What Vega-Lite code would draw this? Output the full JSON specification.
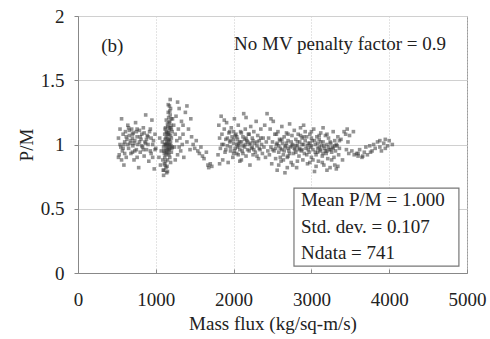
{
"$schema": "https://vega.github.io/schema/vega-lite/v6.json",
"width": 389, "height": 257,
"autosize": {"type": "none"},
"padding": {"left": 78, "top": 16, "right": 23, "bottom": 66},
"config": {
  "view": {"stroke": "#9a9a9a", "strokeWidth": 1},
  "font": "Times New Roman, Liberation Serif, DejaVu Serif, serif",
  "axis": {"labelFont": "Times New Roman, Liberation Serif, DejaVu Serif, serif", "titleFont": "Times New Roman, Liberation Serif, DejaVu Serif, serif", "labelColor": "#222", "titleColor": "#222", "labelFontSize": 19, "titleFontSize": 19, "titleFontWeight": "normal", "domainColor": "#888", "tickColor": "#888"}
},
"datasets": {
"pts": [
{"G":520,"PM":1.05},{"G":530,"PM":0.92},{"G":540,"PM":1.12},{"G":550,"PM":0.98},{"G":560,"PM":1.20},{"G":570,"PM":0.95},{"G":580,"PM":1.08},{"G":590,"PM":0.84},{"G":600,"PM":1.02},{"G":610,"PM":1.10},{"G":620,"PM":0.90},{"G":630,"PM":1.04},{"G":640,"PM":1.15},{"G":650,"PM":0.97},{"G":660,"PM":1.07},{"G":670,"PM":1.01},{"G":680,"PM":0.93},{"G":690,"PM":1.12},{"G":700,"PM":1.05},{"G":705,"PM":0.99},{"G":710,"PM":1.09},{"G":720,"PM":0.88},{"G":730,"PM":1.03},{"G":740,"PM":1.17},{"G":750,"PM":0.96},{"G":760,"PM":1.06},{"G":770,"PM":1.00},{"G":780,"PM":0.82},{"G":790,"PM":1.11},{"G":800,"PM":0.94},{"G":810,"PM":1.04},{"G":820,"PM":1.08},{"G":830,"PM":0.98},{"G":840,"PM":1.13},{"G":850,"PM":0.91},{"G":860,"PM":1.02},{"G":870,"PM":1.23},{"G":880,"PM":0.96},{"G":890,"PM":1.07},{"G":900,"PM":1.00},{"G":910,"PM":0.87},{"G":920,"PM":1.10},{"G":930,"PM":0.95},{"G":940,"PM":1.05},{"G":950,"PM":1.19},{"G":960,"PM":0.90},{"G":970,"PM":1.03},{"G":980,"PM":0.81},{"G":990,"PM":1.08},{"G":1000,"PM":0.97},{"G":640,"PM":1.00},{"G":700,"PM":1.08},{"G":760,"PM":1.12},{"G":820,"PM":0.99},{"G":880,"PM":1.04},{"G":600,"PM":0.93},{"G":660,"PM":1.11},{"G":730,"PM":0.95},{"G":790,"PM":1.02},{"G":850,"PM":1.09},{"G":540,"PM":1.00},{"G":560,"PM":0.88},
{"G":620,"PM":1.06},{"G":680,"PM":1.03},{"G":720,"PM":1.01},{"G":750,"PM":1.10},{"G":700,"PM":0.94},{"G":650,"PM":1.13},{"G":590,"PM":1.00},{"G":800,"PM":1.06},{"G":840,"PM":0.96},{"G":900,"PM":1.06},{"G":960,"PM":1.00},{"G":520,"PM":0.90},{"G":580,"PM":0.97},{"G":760,"PM":0.90},{"G":940,"PM":0.93},{"G":990,"PM":0.96},{"G":870,"PM":1.01},{"G":930,"PM":1.12},
{"G":1100,"PM":0.76},{"G":1105,"PM":0.80},{"G":1110,"PM":0.85},{"G":1115,"PM":0.90},{"G":1120,"PM":0.95},{"G":1125,"PM":1.00},{"G":1130,"PM":1.05},{"G":1135,"PM":1.10},{"G":1140,"PM":0.78},{"G":1145,"PM":0.83},{"G":1150,"PM":0.88},{"G":1155,"PM":0.93},{"G":1160,"PM":0.98},{"G":1165,"PM":1.03},{"G":1170,"PM":1.08},{"G":1175,"PM":1.13},{"G":1180,"PM":1.18},{"G":1185,"PM":1.23},{"G":1190,"PM":1.28},{"G":1195,"PM":1.15},{"G":1200,"PM":1.05},{"G":1205,"PM":0.97},{"G":1210,"PM":1.10},{"G":1215,"PM":1.20},{"G":1120,"PM":1.12},{"G":1130,"PM":0.92},{"G":1140,"PM":1.02},{"G":1150,"PM":1.16},{"G":1160,"PM":1.25},{"G":1170,"PM":0.96},{"G":1180,"PM":1.00},{"G":1190,"PM":1.07},{"G":1200,"PM":0.94},{"G":1110,"PM":1.00},{"G":1125,"PM":0.87},{"G":1135,"PM":0.97},{"G":1145,"PM":1.06},{"G":1155,"PM":1.14},{"G":1165,"PM":1.21},{"G":1175,"PM":1.30},{"G":1185,"PM":1.35},{"G":1195,"PM":0.99},{"G":1180,"PM":0.90},{"G":1170,"PM":1.17},{"G":1160,"PM":1.09},{"G":1150,"PM":1.01},{"G":1140,"PM":0.94},{"G":1130,"PM":0.82},{"G":1120,"PM":1.04},{"G":1110,"PM":0.93},{"G":1100,"PM":0.98},{"G":1090,"PM":0.88},{"G":1085,"PM":1.02},{"G":1095,"PM":0.80},{"G":1060,"PM":0.84},{"G":1070,"PM":0.95},{"G":1050,"PM":1.05},{"G":1040,"PM":0.90},{"G":1190,"PM":1.02},{"G":1200,"PM":1.12},{"G":1210,"PM":0.98},{"G":1175,"PM":1.04},{"G":1165,"PM":0.95},{"G":1155,"PM":1.08},{"G":1145,"PM":0.99},{"G":1135,"PM":1.19},{"G":1125,"PM":1.13},{"G":1115,"PM":1.08},{"G":1105,"PM":0.95},{"G":1190,"PM":0.86},{"G":1180,"PM":1.26},{"G":1170,"PM":1.00},
{"G":1150,"PM":0.96},{"G":1160,"PM":1.04},{"G":1170,"PM":1.11},{"G":1180,"PM":0.97},{"G":1190,"PM":1.13},{"G":1140,"PM":1.09},{"G":1130,"PM":1.00},{"G":1150,"PM":0.79},{"G":1120,"PM":0.84},{"G":1160,"PM":1.31},{"G":1200,"PM":1.20},{"G":1170,"PM":0.92},
{"G":1230,"PM":1.15},{"G":1240,"PM":0.98},{"G":1250,"PM":1.08},{"G":1260,"PM":1.22},{"G":1270,"PM":1.03},{"G":1280,"PM":0.92},{"G":1290,"PM":1.12},{"G":1300,"PM":1.28},{"G":1310,"PM":1.05},{"G":1320,"PM":0.95},{"G":1330,"PM":1.18},{"G":1340,"PM":1.00},{"G":1350,"PM":1.08},{"G":1360,"PM":0.90},{"G":1380,"PM":1.25},{"G":1400,"PM":1.02},{"G":1420,"PM":1.12},{"G":1440,"PM":0.96},{"G":1460,"PM":1.06},{"G":1480,"PM":1.00},{"G":1500,"PM":0.97},{"G":1520,"PM":1.03},{"G":1540,"PM":0.95},{"G":1560,"PM":0.93},{"G":1580,"PM":0.98},{"G":1600,"PM":0.91},{"G":1620,"PM":0.89},{"G":1650,"PM":0.94},{"G":1670,"PM":0.84},{"G":1680,"PM":0.82},{"G":1700,"PM":0.85},{"G":1720,"PM":0.83},{"G":1250,"PM":0.88},{"G":1300,"PM":0.98},{"G":1350,"PM":1.15},{"G":1400,"PM":1.30},{"G":1450,"PM":1.20},{"G":1280,"PM":1.33},
{"G":1800,"PM":0.92},{"G":1810,"PM":1.15},{"G":1820,"PM":1.05},{"G":1830,"PM":0.97},{"G":1840,"PM":1.22},{"G":1850,"PM":1.08},{"G":1860,"PM":0.88},{"G":1870,"PM":1.00},{"G":1880,"PM":1.12},{"G":1890,"PM":0.94},{"G":1900,"PM":1.04},{"G":1910,"PM":1.17},{"G":1920,"PM":0.99},{"G":1930,"PM":0.86},{"G":1940,"PM":1.09},{"G":1950,"PM":1.02},{"G":1960,"PM":0.95},{"G":1970,"PM":1.13},{"G":1980,"PM":1.06},{"G":1990,"PM":0.90},{"G":2000,"PM":1.01},{"G":2010,"PM":1.20},{"G":2020,"PM":0.97},{"G":2030,"PM":1.08},{"G":2040,"PM":0.93},{"G":2050,"PM":1.04},{"G":2060,"PM":1.15},{"G":2070,"PM":0.99},{"G":2080,"PM":0.87},{"G":2090,"PM":1.10},{"G":2100,"PM":1.02},{"G":2110,"PM":0.95},{"G":2120,"PM":1.06},{"G":2130,"PM":1.24},{"G":2140,"PM":0.98},{"G":2150,"PM":1.12},{"G":2160,"PM":0.91},{"G":2170,"PM":1.03},{"G":2180,"PM":0.96},{"G":2190,"PM":1.08},{"G":2200,"PM":1.00},{"G":2210,"PM":0.84},{"G":2220,"PM":1.14},{"G":2230,"PM":0.97},{"G":2240,"PM":1.05},{"G":2250,"PM":0.92},{"G":2260,"PM":1.10},{"G":2270,"PM":1.01},{"G":2280,"PM":0.94},{"G":2290,"PM":1.18},{"G":2300,"PM":0.99},{"G":2310,"PM":1.07},{"G":2320,"PM":0.89},{"G":2330,"PM":1.03},{"G":2340,"PM":0.96},{"G":2350,"PM":1.12},{"G":2360,"PM":1.00},{"G":2370,"PM":0.93},{"G":2380,"PM":1.05},{"G":2390,"PM":0.98},{"G":2400,"PM":1.15},{"G":2410,"PM":0.90},{"G":2420,"PM":1.02},{"G":2430,"PM":1.24},{"G":2440,"PM":0.95},{"G":1850,"PM":1.00},{"G":1900,"PM":0.96},{"G":1950,"PM":1.10},{"G":2000,"PM":0.93},{"G":2050,"PM":0.98},{"G":2100,"PM":1.09},{"G":2150,"PM":1.00},{"G":2200,"PM":0.95},{"G":2250,"PM":1.03},{"G":2300,"PM":0.91},{"G":2350,"PM":1.05},{"G":2000,"PM":1.04},{"G":2040,"PM":1.00},{"G":2080,"PM":0.96},{"G":2120,"PM":0.99},{"G":2060,"PM":0.92},{"G":2020,"PM":1.07},{"G":1960,"PM":1.03},{"G":2180,"PM":1.02},{"G":2100,"PM":0.88},{"G":2240,"PM":0.98},{"G":1880,"PM":1.19},{"G":2160,"PM":1.21},{"G":1820,"PM":0.85},
{"G":1960,"PM":0.98},{"G":2000,"PM":1.10},{"G":2040,"PM":1.06},{"G":2080,"PM":1.02},{"G":2120,"PM":0.93},{"G":2160,"PM":1.05},{"G":2200,"PM":1.08},{"G":2260,"PM":0.96},{"G":2300,"PM":1.02},{"G":2060,"PM":1.01},{"G":2010,"PM":0.95},{"G":2140,"PM":1.04},{"G":1920,"PM":1.05},{"G":2220,"PM":1.01},{"G":2330,"PM":0.97},
{"G":2450,"PM":1.05},{"G":2460,"PM":0.92},{"G":2470,"PM":1.12},{"G":2480,"PM":0.98},{"G":2490,"PM":0.85},{"G":2500,"PM":1.02},{"G":2510,"PM":1.18},{"G":2520,"PM":0.95},{"G":2530,"PM":1.08},{"G":2540,"PM":0.89},{"G":2550,"PM":1.00},{"G":2560,"PM":0.80},{"G":2570,"PM":1.10},{"G":2580,"PM":0.94},{"G":2590,"PM":1.04},{"G":2600,"PM":0.97},{"G":2610,"PM":0.87},{"G":2620,"PM":1.14},{"G":2630,"PM":1.01},{"G":2640,"PM":0.92},{"G":2650,"PM":1.06},{"G":2660,"PM":0.78},{"G":2670,"PM":0.99},{"G":2680,"PM":1.09},{"G":2690,"PM":0.90},{"G":2700,"PM":1.03},{"G":2710,"PM":0.95},{"G":2720,"PM":1.16},{"G":2730,"PM":0.98},{"G":2740,"PM":0.86},{"G":2750,"PM":1.07},{"G":2760,"PM":1.00},{"G":2770,"PM":0.93},{"G":2780,"PM":1.11},{"G":2790,"PM":0.96},{"G":2800,"PM":1.04},{"G":2810,"PM":0.82},{"G":2820,"PM":0.99},{"G":2830,"PM":1.08},{"G":2840,"PM":0.91},{"G":2850,"PM":1.02},{"G":2860,"PM":1.13},{"G":2870,"PM":0.95},{"G":2880,"PM":1.05},{"G":2890,"PM":0.88},{"G":2900,"PM":1.00},{"G":2910,"PM":0.93},{"G":2920,"PM":1.10},{"G":2930,"PM":0.97},{"G":2940,"PM":1.06},{"G":2950,"PM":0.85},{"G":2960,"PM":1.01},{"G":2970,"PM":0.94},{"G":2980,"PM":1.08},{"G":2990,"PM":0.98},{"G":3000,"PM":0.90},{"G":3010,"PM":1.03},{"G":3020,"PM":0.96},{"G":3030,"PM":1.12},{"G":3040,"PM":0.79},{"G":3050,"PM":1.00},{"G":3060,"PM":0.92},{"G":3070,"PM":1.06},{"G":3080,"PM":0.97},{"G":3090,"PM":0.87},{"G":3100,"PM":1.04},{"G":3110,"PM":0.95},{"G":3120,"PM":1.09},{"G":3130,"PM":0.99},{"G":3140,"PM":0.91},{"G":3150,"PM":1.02},{"G":3160,"PM":0.84},{"G":3170,"PM":0.97},{"G":3180,"PM":1.07},{"G":3190,"PM":0.93},{"G":3200,"PM":1.00},{"G":3210,"PM":0.89},{"G":3220,"PM":1.05},{"G":3230,"PM":0.96},{"G":3240,"PM":0.82},{"G":3250,"PM":1.01},{"G":3260,"PM":0.94},{"G":3270,"PM":0.98},{"G":3280,"PM":1.10},{"G":3290,"PM":0.90},{"G":3300,"PM":1.03},{"G":3310,"PM":0.95},{"G":3320,"PM":0.81},{"G":3330,"PM":0.99},{"G":3340,"PM":1.06},{"G":3350,"PM":0.92},{"G":3360,"PM":0.97},{"G":3380,"PM":1.04},{"G":3400,"PM":0.88},{"G":3420,"PM":1.10},{"G":3440,"PM":1.08},{"G":3450,"PM":0.96},{"G":3460,"PM":1.12},{"G":3470,"PM":1.02},{"G":3480,"PM":0.93},{"G":3490,"PM":1.07},{"G":2500,"PM":0.96},{"G":2550,"PM":1.08},{"G":2600,"PM":1.03},{"G":2650,"PM":0.95},{"G":2700,"PM":0.91},{"G":2750,"PM":0.99},{"G":2800,"PM":0.94},{"G":2850,"PM":0.97},{"G":2900,"PM":1.06},{"G":2950,"PM":0.99},{"G":3000,"PM":1.05},{"G":3050,"PM":0.94},{"G":3100,"PM":0.98},{"G":3150,"PM":0.93},{"G":3200,"PM":1.08},{"G":3250,"PM":0.96},{"G":3300,"PM":0.99},{"G":2580,"PM":0.99},{"G":2620,"PM":0.96},{"G":2680,"PM":1.01},{"G":2720,"PM":0.93},{"G":2780,"PM":0.97},{"G":2820,"PM":1.02},{"G":2880,"PM":0.96},{"G":2940,"PM":0.92},{"G":2980,"PM":1.01},{"G":3020,"PM":0.88},{"G":3080,"PM":1.01},{"G":3120,"PM":0.96},{"G":3180,"PM":0.95},{"G":3220,"PM":0.98},{"G":2540,"PM":0.97},{"G":2600,"PM":0.90},{"G":2760,"PM":0.84},{"G":3060,"PM":0.83},{"G":3300,"PM":0.84},{"G":2900,"PM":1.15},{"G":3150,"PM":1.13},{"G":2480,"PM":1.20},
{"G":2560,"PM":1.01},{"G":2620,"PM":1.04},{"G":2660,"PM":0.98},{"G":2700,"PM":0.97},{"G":2740,"PM":1.02},{"G":2800,"PM":0.99},{"G":2840,"PM":0.96},{"G":2880,"PM":1.00},{"G":2920,"PM":1.03},{"G":2960,"PM":0.96},{"G":3000,"PM":0.99},{"G":3040,"PM":1.03},{"G":3080,"PM":0.94},{"G":3120,"PM":1.02},{"G":3160,"PM":0.99},{"G":3200,"PM":0.95},{"G":3240,"PM":1.02},{"G":3280,"PM":0.97},{"G":3320,"PM":1.00},{"G":3360,"PM":1.03},{"G":2700,"PM":1.08},{"G":2860,"PM":1.07},{"G":3000,"PM":1.10},{"G":3100,"PM":1.07},{"G":2640,"PM":0.88},{"G":2820,"PM":0.87},{"G":2980,"PM":0.86},{"G":3140,"PM":0.86},{"G":3260,"PM":0.88},{"G":3340,"PM":0.83},{"G":3200,"PM":0.80},{"G":2580,"PM":0.84},{"G":2690,"PM":0.82},
{"G":3520,"PM":0.95},{"G":3550,"PM":0.92},{"G":3580,"PM":0.93},{"G":3600,"PM":0.91},{"G":3620,"PM":0.96},{"G":3650,"PM":0.90},{"G":3680,"PM":0.94},{"G":3700,"PM":0.98},{"G":3720,"PM":0.92},{"G":3750,"PM":0.99},{"G":3780,"PM":0.95},{"G":3800,"PM":1.00},{"G":3820,"PM":0.97},{"G":3850,"PM":1.02},{"G":3880,"PM":0.98},{"G":3900,"PM":0.95},{"G":3930,"PM":1.01},{"G":3950,"PM":1.04},{"G":3980,"PM":0.99},{"G":4000,"PM":1.03},{"G":4040,"PM":1.00},{"G":3540,"PM":1.10},{"G":3600,"PM":0.93},{"G":3660,"PM":0.91},{"G":3760,"PM":0.94},{"G":3880,"PM":1.03},{"G":3950,"PM":0.97}
]
},
"layer": [
{
  "data": {"name": "pts"},
  "mark": {"type": "point", "shape": "square", "filled": true, "size": 13, "color": "#3a3a3a", "opacity": 0.55},
  "encoding": {
    "x": {"field": "G", "type": "quantitative", "scale": {"domain": [0, 5000], "nice": false},
      "axis": {"title": "Mass flux (kg/sq-m/s)", "values": [0,500,1000,1500,2000,2500,3000,3500,4000,4500,5000],
        "labelExpr": "datum.value % 1000 == 0 ? datum.label : ''", "format": "d",
        "gridColor": "#c8c8c8", "gridDash": [1, 2], "gridOpacity": {"condition": {"test": "datum.value % 1000 != 0", "value": 0}, "value": 1},
        "tickSize": -4, "labelPadding": 21, "titlePadding": 5, "labelFlush": false}},
    "y": {"field": "PM", "type": "quantitative", "scale": {"domain": [0, 2], "nice": false},
      "axis": {"title": "P/M", "values": [0, 0.5, 1, 1.5, 2], "format": "~g", "gridColor": "#d0d0d0", "tickSize": 4, "labelPadding": 10, "titlePadding": 4, "labelFlush": false}}
  }
},
{
  "data": {"values": [{"x1": 2776, "x2": 4896, "y1": 0.054, "y2": 0.661}]},
  "mark": {"type": "rect", "fill": "white", "stroke": "#777", "strokeWidth": 1.2},
  "encoding": {"x": {"field": "x1", "type": "quantitative"}, "x2": {"field": "x2"}, "y": {"field": "y1", "type": "quantitative"}, "y2": {"field": "y2"}}
},
{
  "data": {"values": [
    {"x": 2866, "y": 0.568, "t": "Mean P/M = 1.000"},
    {"x": 2866, "y": 0.358, "t": "Std. dev. = 0.107"},
    {"x": 2866, "y": 0.156, "t": "Ndata = 741"}
  ]},
  "mark": {"type": "text", "font": "Times New Roman, Liberation Serif, DejaVu Serif, serif", "fontSize": 19, "color": "#222", "baseline": "middle", "align": "left"},
  "encoding": {"x": {"field": "x", "type": "quantitative"}, "y": {"field": "y", "type": "quantitative"}, "text": {"field": "t"}}
},
{
  "data": {"values": [{"x": 4730, "y": 1.78, "t": "No MV penalty factor = 0.9"}]},
  "mark": {"type": "text", "font": "Times New Roman, Liberation Serif, DejaVu Serif, serif", "fontSize": 19, "color": "#222", "baseline": "middle", "align": "right"},
  "encoding": {"x": {"field": "x", "type": "quantitative"}, "y": {"field": "y", "type": "quantitative"}, "text": {"field": "t"}}
},
{
  "data": {"values": [{"x": 440, "y": 1.77, "t": "(b)"}]},
  "mark": {"type": "text", "font": "Times New Roman, Liberation Serif, DejaVu Serif, serif", "fontSize": 19, "color": "#222", "baseline": "middle", "align": "center"},
  "encoding": {"x": {"field": "x", "type": "quantitative"}, "y": {"field": "y", "type": "quantitative"}, "text": {"field": "t"}}
}
]
}
